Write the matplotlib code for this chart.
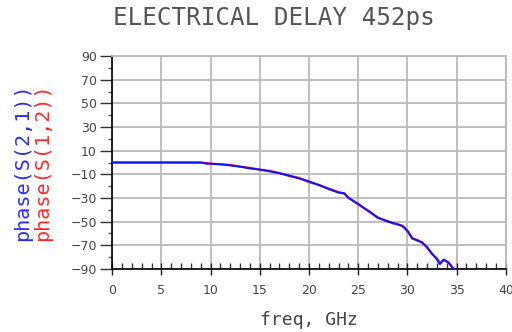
import matplotlib.pyplot as plt
import numpy as np
from matplotlib.ticker import FuncFormatter


# ============================================================
# DATI
# ============================================================

FREQ_GHZ = [
    0.0, 9.0, 9.6, 10.0, 11.0, 12.0, 13.0, 14.0, 15.0, 16.0, 17.0,
    18.0, 19.0, 20.0, 21.0, 22.0, 23.0, 23.6, 24.0, 25.0, 26.0,
    27.0, 28.0, 28.5, 29.0, 29.5, 30.0, 30.5, 31.0, 31.5, 32.0,
    32.5, 33.0, 33.3, 33.7, 34.2, 34.7, 35.3,
]

PHASE_S21 = [
    0.0, 0.0, -1.0, -1.0, -1.5, -2.5, -3.5, -5.0, -6.0, -7.5, -9.0,
    -11.0, -13.5, -16.0, -19.0, -22.5, -25.5, -26.0, -30.0, -35.0, -41.0,
    -46.5, -50.0, -51.0, -52.5, -53.5, -58.0, -64.0, -66.0, -67.5, -72.0,
    -77.0, -82.0, -86.0, -82.0, -85.0, -90.0, -92.0,
]

PHASE_S12 = [
    0.0, 0.0, -0.5, -1.0, -1.5, -2.0, -3.5, -4.5, -6.0, -7.0, -9.0,
    -11.5, -13.0, -16.5, -19.0, -22.0, -25.0, -26.5, -29.5, -35.5, -40.5,
    -47.0, -49.5, -51.5, -52.0, -54.0, -57.5, -64.5, -65.5, -68.0, -71.5,
    -77.5, -81.0, -85.0, -82.5, -84.5, -90.5, -92.0,
]

X_TICKS = list(range(0, 41, 5))
Y_TICKS = list(range(-90, 91, 20))

GRID_COLOR = "#b9b9b9"
TEXT_COLOR = "#444444"


# ============================================================
# FIGURA
# ============================================================

fig = plt.figure(figsize=(5.12, 3.32), dpi=100)
ax = fig.add_axes([0.219, 0.190, 0.769, 0.641])

ax.plot(FREQ_GHZ, PHASE_S12, color="#ff2020", linewidth=1.6, zorder=3)
ax.plot(FREQ_GHZ, PHASE_S21, color="#1010ff", linewidth=1.4, zorder=4)

ax.set_xlim(X_TICKS[0], X_TICKS[-1])
ax.set_ylim(Y_TICKS[0], Y_TICKS[-1])

ax.set_xticks(X_TICKS)
ax.set_xticks(np.arange(X_TICKS[0], X_TICKS[-1] + 1, 1), minor=True)
ax.set_yticks(Y_TICKS)
ax.set_yticks(np.arange(Y_TICKS[0], Y_TICKS[-1] + 1, 10), minor=True)

ax.yaxis.set_major_formatter(
    FuncFormatter(lambda v, _: f"{v:.0f}".replace("-", "\u2212"))
)

ax.grid(True, which="major", color=GRID_COLOR, linewidth=1.3)
ax.set_axisbelow(True)

for side in ("top", "right"):
    ax.spines[side].set_color(GRID_COLOR)
    ax.spines[side].set_linewidth(1.3)
for side in ("left", "bottom"):
    ax.spines[side].set_color("black")
    ax.spines[side].set_linewidth(1.2)

ax.tick_params(axis="x", which="major", direction="inout", length=9,
               width=1.0, color="#222222", labelsize=9,
               labelcolor=TEXT_COLOR, pad=6)
ax.tick_params(axis="x", which="minor", direction="in", length=4,
               width=1.0, color="#333333")
ax.tick_params(axis="y", which="major", direction="out", length=9,
               width=1.0, color="#333333", labelsize=9,
               labelcolor=TEXT_COLOR, pad=2)
ax.tick_params(axis="y", which="minor", direction="out", length=3,
               width=1.0, color="#555555")


# ============================================================
# TESTI
# ============================================================

fig.text(0.535, 0.945, "ELECTRICAL DELAY 452ps", ha="center", va="center",
         fontsize=17.5, family="DejaVu Sans Mono", color="#555555")

fig.text(0.603, 0.035, "freq, GHz", ha="center", va="center",
         fontsize=13, family="DejaVu Sans Mono", color=TEXT_COLOR)

fig.text(0.045, 0.51, "phase(S(2,1))", rotation=90, ha="center",
         va="center", fontsize=14.5, family="DejaVu Sans Mono",
         color="#2a2aff")
fig.text(0.084, 0.51, "phase(S(1,2))", rotation=90, ha="center",
         va="center", fontsize=14.5, family="DejaVu Sans Mono",
         color="#ff2a2a")

fig.savefig("out.png", dpi=100)
